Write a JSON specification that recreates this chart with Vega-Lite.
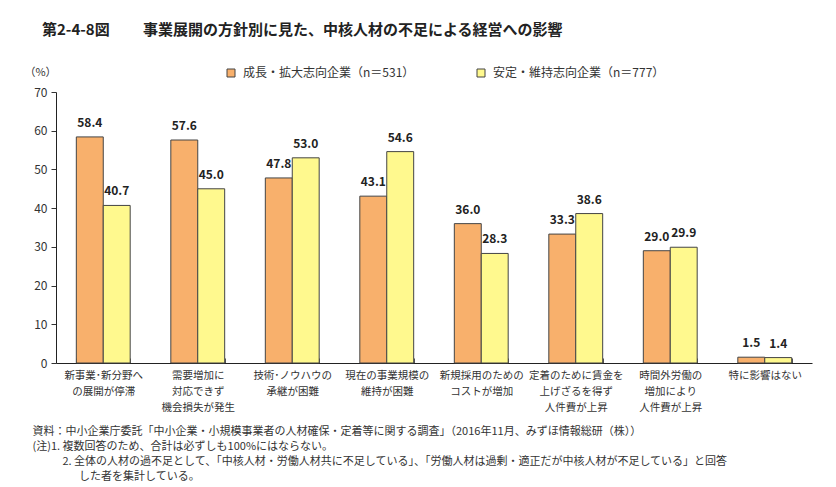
{
  "$schema": "https://vega.github.io/schema/vega-lite/v6.json",
  "width": 756,
  "height": 271,
  "autosize": {"type": "none"},
  "padding": {"left": 56, "top": 92, "right": 24, "bottom": 124},
  "background": "white",
  "config": {"font": "Noto Sans CJK JP", "view": {"stroke": null}},
  "title": {
    "text": "第2-4-8図　　 事業展開の方針別に見た、中核人材の不足による経営への影響",
    "anchor": "start",
    "frame": "group",
    "dx": -14,
    "offset": 28,
    "fontSize": 15,
    "fontWeight": "bold",
    "color": "#222222",
    "font": "Noto Sans CJK JP"
  },
  "data": {
    "values": [
      {"category": "新事業･新分野へ|の展開が停滞", "group": "成長・拡大志向企業（n＝531）", "value": 58.4},
      {"category": "新事業･新分野へ|の展開が停滞", "group": "安定・維持志向企業（n＝777）", "value": 40.7},
      {"category": "需要増加に|対応できず|機会損失が発生", "group": "成長・拡大志向企業（n＝531）", "value": 57.6},
      {"category": "需要増加に|対応できず|機会損失が発生", "group": "安定・維持志向企業（n＝777）", "value": 45.0},
      {"category": "技術･ノウハウの|承継が困難", "group": "成長・拡大志向企業（n＝531）", "value": 47.8},
      {"category": "技術･ノウハウの|承継が困難", "group": "安定・維持志向企業（n＝777）", "value": 53.0},
      {"category": "現在の事業規模の|維持が困難", "group": "成長・拡大志向企業（n＝531）", "value": 43.1},
      {"category": "現在の事業規模の|維持が困難", "group": "安定・維持志向企業（n＝777）", "value": 54.6},
      {"category": "新規採用のための|コストが増加", "group": "成長・拡大志向企業（n＝531）", "value": 36.0},
      {"category": "新規採用のための|コストが増加", "group": "安定・維持志向企業（n＝777）", "value": 28.3},
      {"category": "定着のために賃金を|上げざるを得ず|人件費が上昇", "group": "成長・拡大志向企業（n＝531）", "value": 33.3},
      {"category": "定着のために賃金を|上げざるを得ず|人件費が上昇", "group": "安定・維持志向企業（n＝777）", "value": 38.6},
      {"category": "時間外労働の|増加により|人件費が上昇", "group": "成長・拡大志向企業（n＝531）", "value": 29.0},
      {"category": "時間外労働の|増加により|人件費が上昇", "group": "安定・維持志向企業（n＝777）", "value": 29.9},
      {"category": "特に影響はない", "group": "成長・拡大志向企業（n＝531）", "value": 1.5},
      {"category": "特に影響はない", "group": "安定・維持志向企業（n＝777）", "value": 1.4}
    ]
  },
  "encoding": {
    "x": {
      "field": "category",
      "type": "nominal",
      "sort": null,
      "scale": {"paddingInner": 0.43, "paddingOuter": 0.215},
      "axis": {
        "labelExpr": "split(datum.label, '|')",
        "labelAngle": 0,
        "labelFontSize": 10.5,
        "labelColor": "#333333",
        "labelLineHeight": 16,
        "labelBaseline": "top",
        "labelPadding": 12,
        "labelFont": "Noto Sans CJK JP",
        "labelOverlap": false,
        "tickBand": "extent",
        "tickSize": -5,
        "tickColor": "#555555",
        "domainColor": "#222222",
        "title": [
          "資料：中小企業庁委託「中小企業・小規模事業者の人材確保・定着等に関する調査」（2016年11月、みずほ情報総研（株））",
          "(注)1. 複数回答のため、合計は必ずしも100%にはならない。",
          "\u200B\u3000\u3000\u2002 2. 全体の人材の過不足として、「中核人材・労働人材共に不足している」、「労働人材は過剰・適正だが中核人材が不足している」と回答",
          "\u200B\u3000\u3000\u3000\u2002\u2002 した者を集計している。"
        ],
        "titleAnchor": "start",
        "titleAlign": "left",
        "titleBaseline": "top",
        "titleX": -24,
        "titleY": 62,
        "titleFontSize": 11,
        "titleFontWeight": "normal",
        "titleColor": "#333333",
        "titleLineHeight": 15,
        "titleFont": "Noto Sans CJK JP"
      }
    },
    "xOffset": {
      "field": "group",
      "type": "nominal",
      "sort": ["成長・拡大志向企業（n＝531）", "安定・維持志向企業（n＝777）"],
      "scale": {"paddingInner": 0, "paddingOuter": 0}
    },
    "y": {
      "field": "value",
      "type": "quantitative",
      "scale": {"domain": [0, 70]},
      "axis": {
        "values": [0, 10, 20, 30, 40, 50, 60, 70],
        "grid": false,
        "labelFontSize": 12,
        "labelColor": "#333333",
        "labelPadding": 4,
        "tickSize": 5,
        "tickColor": "#333333",
        "domainColor": "#222222",
        "title": "（%）",
        "titleAngle": 0,
        "titleX": -16,
        "titleY": -20,
        "titleAlign": "center",
        "titleBaseline": "middle",
        "titleFontSize": 11,
        "titleFontWeight": "normal",
        "titleColor": "#333333"
      }
    }
  },
  "layer": [
    {
      "mark": {"type": "bar", "stroke": "#444444", "strokeWidth": 1},
      "encoding": {
        "color": {
          "field": "group",
          "type": "nominal",
          "sort": ["成長・拡大志向企業（n＝531）", "安定・維持志向企業（n＝777）"],
          "scale": {
            "domain": ["成長・拡大志向企業（n＝531）", "安定・維持志向企業（n＝777）"],
            "range": ["#F8B06C", "#FFF98E"]
          },
          "legend": {
            "orient": "none",
            "direction": "horizontal",
            "legendX": 169,
            "legendY": -25,
            "title": null,
            "symbolType": "square",
            "symbolSize": 64,
            "symbolStrokeColor": "#444444",
            "symbolStrokeWidth": 1,
            "labelFontSize": 12,
            "labelColor": "#333333",
            "labelOffset": 6,
            "labelLimit": 400,
            "columnPadding": 60
          }
        }
      }
    },
    {
      "mark": {"type": "text", "baseline": "bottom", "dy": -7, "fontWeight": "bold", "fontSize": 12, "color": "#222222"},
      "encoding": {
        "text": {"field": "value", "type": "quantitative", "format": ".1f"}
      }
    }
  ]
}
